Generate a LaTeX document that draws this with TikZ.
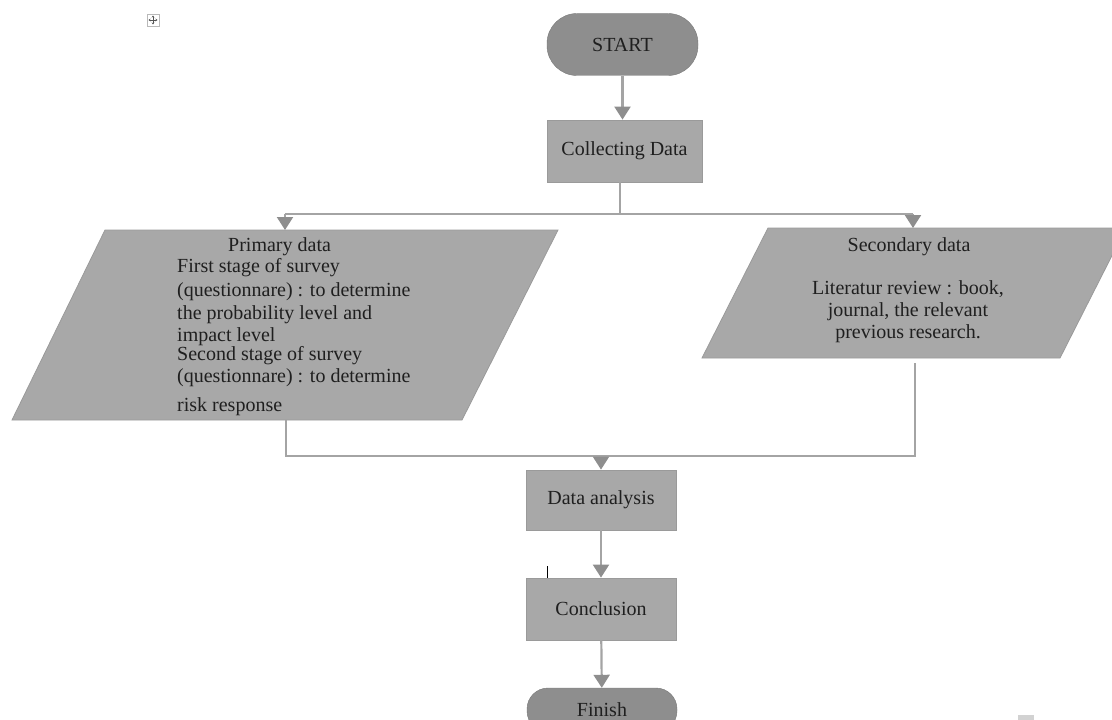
\documentclass[tikz,border=0pt]{standalone}
\usepackage{fontspec}
\setmainfont{Liberation Serif}
\usetikzlibrary{arrows.meta}
\definecolor{pill}{HTML}{8E8E8E}
\definecolor{boxfill}{HTML}{A8A8A8}
\definecolor{edge}{HTML}{9A9A9A}
\definecolor{conn}{HTML}{A4A4A4}
\definecolor{tipc}{HTML}{8E8E8E}
\begin{document}
\begin{tikzpicture}[x=1bp,y=-1bp,
  every node/.style={font=\fontsize{20bp}{24bp}\selectfont, text=black!88},
  pillbox/.style={draw=pill!85!black, fill=pill, rounded corners=30bp, minimum width=151bp, minimum height=62bp, inner sep=0},
  procbox/.style={draw=edge, fill=boxfill, line width=0.8bp, inner sep=0},
  conn/.style={draw=conn, line width=2.2bp},
  arr/.style={conn, -{Triangle[width=16bp,length=13bp,color=tipc]}},
  para/.style={fill=boxfill, draw=edge, line width=0.8bp},
  txt/.style={inner sep=0},
  icon/.style={draw=gray!65!black, line width=0.6bp}
]
\useasboundingbox (0,0) rectangle (1112,720);
\begin{scope}
\clip (0,0) rectangle (1112,720);

% shapes
\node[pillbox] (start) at (622.5,44.5) {START};
\node[procbox, minimum width=155bp, minimum height=62bp] (collect) at (624.5,151) {Collecting Data};

\path[para] (105,230) -- (558,230) -- (462,420) -- (12,420) -- cycle;
\path[para] (768,228) -- (1126,228) -- (1060,358) -- (702,358) -- cycle;

\node[procbox, minimum width=150bp, minimum height=60bp] (analysis) at (601,500) {Data analysis};
\node[procbox, minimum width=150bp, minimum height=62bp] (conclusion) at (601,609) {Conclusion};
\node[pillbox, minimum width=150bp, minimum height=44bp, rounded corners=21bp] (finish) at (602,710) {Finish};

% texts of the data boxes
\node[txt, anchor=base west] (p0) at (228,251) {Primary data};
\foreach \y/\t [count=\i] in {272/{First stage of survey},
                              296/{(questionnare) : to determine},
                              319/{the probability level and},
                              341/{impact level},
                              360/{Second stage of survey},
                              382/{(questionnare) : to determine},
                              411/{risk response}}
  \node[txt, anchor=base west] (p\i) at (177,\y) {\t};

\node[txt, anchor=base] (s0) at (909,251) {Secondary data};
\foreach \y/\t [count=\i] in {294/{Literatur review : book,},
                              316/{journal, the relevant},
                              338/{previous research.}}
  \node[txt, anchor=base] (s\i) at (908,\y) {\t};

% connectors
\coordinate (split) at (620,214);
\coordinate (ptop) at (285,230);
\coordinate (stop) at (913,228);
\coordinate (pbot) at (286,420);
\coordinate (sbot) at (915,363);
\coordinate (join) at (601,456);

\draw[arr] (start.south) -- (start.south |- collect.north);
\draw[conn] (collect.south -| split) -- (split);
\draw[conn] (ptop |- split) -- (stop |- split);
\draw[arr] (ptop |- split) -- (ptop);
\draw[arr] (stop |- split) -- (stop);

\draw[conn] (pbot) -- (pbot |- join) -- (sbot |- join) -- (sbot);
\draw[arr] (join) -- (analysis.north);
\draw[arr] (analysis) -- (conclusion);
\draw[arr] (conclusion) -- (finish);

% small marks
\draw[black, line width=1bp] (547,566) -- (547,578);
\node[draw=gray!55, line width=0.7bp, minimum size=12bp, inner sep=0] (move) at (153,20) {};
\draw[icon, {Stealth[length=2bp,width=2.5bp]}-{Stealth[length=2bp,width=2.5bp]}] ([xshift=-4.5bp]move.center) -- ([xshift=4.5bp]move.center);
\draw[icon, {Stealth[length=2bp,width=2.5bp]}-{Stealth[length=2bp,width=2.5bp]}] ([yshift=-4.5bp]move.center) -- ([yshift=4.5bp]move.center);
\fill[gray!35] (1018,715) rectangle (1034,720);
\end{scope}
\end{tikzpicture}
\end{document}
